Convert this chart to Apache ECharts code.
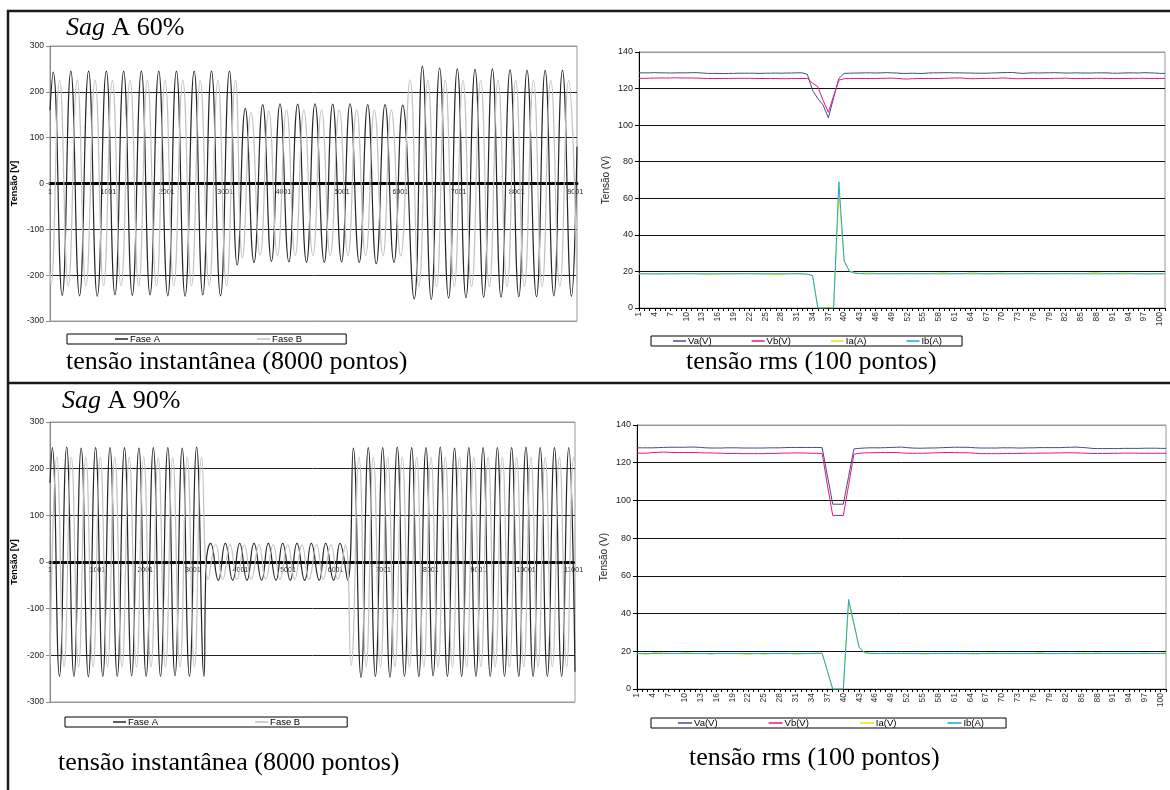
<!DOCTYPE html>
<html><head><meta charset="utf-8">
<script src="https://cdn.jsdelivr.net/npm/echarts/dist/echarts.min.js"></script>
<style>html,body{margin:0;padding:0;background:#fff}#c{width:1170px;height:790px}</style>
</head><body><div id="c"></div>
<script>
// ---------- DATA ----------
// instantaneous voltage, 60% sag: waveform extrema [sample index, volts]
const sag60FaseA = [[0,160],[54,243],[209,-244],[357,245],[506,-245],[661,245],[810,-246],[965,245],[1113,-243],[1262,245],[1410,-244],[1565,245],[1714,-243],[1863,245],[2018,-245],[2166,245],[2315,-246],[2470,245],[2618,-243],[2767,245],[2922,-245],[3075,245],[3208,-178],[3346,164],[3495,-172],[3645,172],[3794,-170],[3941,174],[4093,-171],[4244,173],[4395,-172],[4541,174],[4699,-172],[4844,173],[4996,-171],[5141,174],[5299,-172],[5444,172],[5590,-175],[5741,172],[5894,-172],[6044,171],[6240,-252],[6380,256],[6533,-253],[6676,252],[6830,-250],[6979,250],[7127,-249],[7283,249],[7431,-248],[7580,250],[7729,-248],[7883,248],[8033,-247],[8174,247],[8336,-247],[8484,247],[8633,-245],[8781,247],[8936,-246],[9030,80]];
const sag60FaseB = [[0,-195],[15,-222],[164,225],[312,-223],[467,225],[616,-223],[771,226],[919,-223],[1068,225],[1217,-223],[1372,225],[1520,-223],[1669,225],[1824,-223],[1972,225],[2121,-223],[2276,225],[2425,-223],[2573,225],[2728,-223],[2877,225],[3025,-223],[3178,225],[3297,-162],[3445,155],[3600,-156],[3749,158],[3897,-157],[4053,160],[4201,-157],[4350,160],[4505,-157],[4653,160],[4802,-157],[4957,160],[5106,-157],[5254,160],[5409,-157],[5558,160],[5706,-157],[5848,160],[6010,-158],[6169,226],[6320,-225],[6475,225],[6624,-225],[6772,225],[6927,-225],[7076,225],[7224,-225],[7379,225],[7528,-225],[7677,225],[7832,-225],[7980,225],[8129,-225],[8284,225],[8432,-225],[8581,225],[8736,-225],[8885,225],[9030,-220]];
// instantaneous voltage, 90% sag
const sag90FaseA = [[0,170],[48,245],[199,-245],[351,246],[503,-245],[655,244],[806,-246],[958,245],[1110,-245],[1261,245],[1413,-245],[1565,245],[1716,-244],[1868,244],[2020,-245],[2171,245],[2323,-245],[2475,245],[2626,-244],[2778,244],[2930,-245],[3081,246],[3235,-245],[3280,-5],[3376,40],[3536,-39],[3683,40],[3838,-39],[3985,40],[4139,-39],[4286,40],[4447,-39],[4586,40],[4748,-39],[4889,40],[5048,-39],[5189,40],[5351,-39],[5490,40],[5657,-39],[5792,40],[5960,-39],[6092,40],[6254,-39],[6372,244],[6534,-247],[6687,245],[6837,-245],[6989,245],[7142,-247],[7296,246],[7447,-245],[7599,245],[7749,-245],[7899,245],[8049,-244],[8199,246],[8349,-245],[8499,244],[8649,-245],[8799,245],[8949,-245],[9099,245],[9249,-245],[9399,245],[9549,-245],[9699,245],[9849,-245],[9999,246],[10149,-245],[10299,245],[10449,-245],[10599,245],[10749,-245],[10899,245],[11030,-235]];
const sag90FaseB = [[0,-222],[143,225],[295,-225],[447,225],[600,-225],[752,225],[904,-225],[1056,225],[1209,-225],[1361,225],[1513,-225],[1665,225],[1817,-225],[1969,225],[2122,-225],[2274,225],[2426,-225],[2578,225],[2731,-225],[2883,225],[3035,-225],[3187,225],[3326,-37],[3481,37],[3628,-37],[3782,37],[3929,-37],[4082,37],[4229,-37],[4391,37],[4531,-37],[4691,37],[4832,-37],[4994,37],[5141,-37],[5294,37],[5441,-37],[5603,37],[5742,-37],[5903,37],[6044,-37],[6204,37],[6324,-222],[6492,225],[6642,-225],[6792,225],[6943,-225],[7095,225],[7248,-225],[7401,225],[7552,-225],[7704,225],[7854,-225],[8004,225],[8154,-225],[8304,225],[8454,-225],[8604,225],[8754,-225],[8904,225],[9054,-225],[9204,225],[9354,-225],[9504,225],[9654,-225],[9804,225],[9954,-225],[10104,225],[10254,-225],[10404,225],[10554,-225],[10704,225],[10854,-225],[11004,225],[11030,215]];

// rms, 100 points (categories 1..101)
const rmsCategories = Array.from({length:101}, (_, i) => String(i + 1));
const rms60Va = [128.6,128.6,128.6,128.7,128.6,128.6,128.5,128.6,128.6,128.6, 128.7,128.7,128.5,128.3,128.3,128.3,128.2,128.3,128.3,128.4, 128.4,128.4,128.4,128.3,128.4,128.4,128.5,128.4,128.5,128.5, 128.6,128.6,127.8,119,114.5,111,104,115,125.5,128.3, 128.4,128.5,128.5,128.6,128.6,128.5,128.6,128.7,128.6,128.5, 128.3,128.3,128.4,128.3,128.3,128.5,128.6,128.6,128.7,128.7, 128.6,128.6,128.5,128.5,128.4,128.4,128.4,128.5,128.6,128.7, 128.8,128.8,128.5,128.3,128.5,128.6,128.5,128.6,128.6,128.7, 128.6,128.5,128.5,128.6,128.5,128.5,128.5,128.6,128.6,128.6, 128.4,128.4,128.5,128.6,128.6,128.5,128.7,128.6,128.5,128.3, 128.3];
const rms60Vb = [125.6,125.6,125.7,125.7,125.8,125.8,125.8,125.9,125.8,125.8, 125.8,125.7,125.6,125.5,125.5,125.5,125.5,125.5,125.6,125.6, 125.6,125.6,125.5,125.5,125.5,125.5,125.5,125.4,125.4,125.5, 125.5,125.5,125.5,123,121,113.5,107,116,124.6,125.4, 125.5,125.5,125.5,125.5,125.5,125.5,125.6,125.6,125.7,125.6, 125.3,125.2,125.4,125.5,125.5,125.5,125.5,125.5,125.6,125.7, 125.8,125.8,125.6,125.4,125.4,125.5,125.6,125.6,125.6,125.8, 125.7,125.5,125.4,125.4,125.5,125.5,125.5,125.5,125.5,125.6, 125.6,125.7,125.5,125.5,125.5,125.5,125.5,125.6,125.6,125.5, 125.5,125.5,125.5,125.5,125.6,125.6,125.6,125.5,125.5,125.5, 125.6];
const rms60Ia = [18.7,18.7,18.6,18.5,18.6,18.7,18.6,18.7,18.8,18.8, 18.8,18.8,18.4,18.2,18.5,18.7,18.7,18.7,18.8,18.8, 18.8,18.8,18.7,18.6,18.6,18.6,18.3,18.3,18.6,18.8, 18.8,18.6,18.5,17.8,0,0,0.5,0,63,25, 20.5,19.3,19.0,19.2,19.2,19.0,18.8,18.8,18.8,18.9, 18.9,19.0,18.9,18.8,18.8,18.8,18.9,19.2,19.3,19.0, 18.8,18.8,19.0,19.3,19.2,18.9,18.7,18.8,19.0,19.2, 19.0,18.8,18.8,18.9,19.1,19.0,18.8,18.8,18.8,18.9, 18.9,19.0,18.9,18.8,18.8,18.9,19.3,19.4,19.1,18.9, 18.8,19.0,19.2,19.1,18.9,18.7,18.6,18.6,18.7,18.8, 18.8];
const rms60Ib = [18.7,18.7,18.7,18.7,18.7,18.7,18.7,18.7,18.7,18.7, 18.7,18.7,18.7,18.7,18.7,18.7,18.7,18.7,18.7,18.7, 18.7,18.7,18.7,18.7,18.7,18.7,18.7,18.7,18.7,18.7, 18.7,18.7,18.5,17.7,0,0,0,0,69,26, 20,19,18.8,18.7,18.7,18.7,18.7,18.7,18.7,18.7, 18.7,18.7,18.7,18.7,18.7,18.7,18.7,18.7,18.7,18.7, 18.7,18.7,18.7,18.7,18.7,18.7,18.7,18.7,18.7,18.7, 18.7,18.7,18.7,18.7,18.7,18.7,18.7,18.7,18.7,18.7, 18.7,18.7,18.7,18.7,18.7,18.7,18.7,18.7,18.7,18.7, 18.7,18.7,18.7,18.7,18.7,18.7,18.7,18.7,18.7,18.7, 18.7];
const rms90Va = [127.9,127.9,127.9,127.9,128.0,128.1,128.2,128.2,128.2,128.2, 128.3,128.3,128.1,127.9,127.8,127.8,127.8,127.9,127.9,127.9, 127.8,127.8,127.8,127.8,127.8,127.9,127.9,127.9,128.0,128.1, 128.1,128.1,128.1,128.1,128.1,128.0,113,98,98,98, 112.7,127.3,127.6,127.8,127.9,127.9,127.9,128.0,128.1,128.2, 128.3,128.0,127.8,127.7,127.7,127.8,127.8,127.9,128.0,128.1, 128.2,128.2,128.2,128.1,127.9,127.8,127.8,127.8,127.8,127.9, 127.9,127.9,127.8,127.8,127.9,127.9,128.0,128.0,128.0,128.0, 128.0,128.1,128.2,128.3,128.1,127.9,127.6,127.5,127.5,127.5, 127.5,127.5,127.6,127.6,127.6,127.6,127.7,127.7,127.7,127.6, 127.6];
const rms90Vb = [125.2,125.0,125.1,125.4,125.5,125.6,125.5,125.4,125.4,125.4, 125.4,125.4,125.3,125.2,125.2,125.1,125.0,124.9,124.9,124.9, 124.8,124.8,124.8,124.8,124.8,124.9,124.9,125.0,125.1,125.1, 125.2,125.2,125.1,125.0,125.0,124.9,108,92,92,92, 108,124.5,125.0,125.2,125.3,125.3,125.4,125.4,125.4,125.4, 125.2,125.0,125.0,125.0,125.0,125.1,125.2,125.3,125.4,125.4, 125.4,125.3,125.3,125.2,125.0,124.8,124.8,124.8,124.8,124.8, 124.9,124.9,124.9,125.0,125.0,125.0,125.1,125.1,125.1,125.2, 125.2,125.3,125.3,125.2,125.1,125.0,124.9,124.9,124.9,124.9, 125.0,125.0,125.1,125.1,125.1,125.0,125.0,125.0,125.0,125.0, 125.0];
const rms90Ia = [18.9,18.6,18.3,19.3,19.3,19.2,19.0,18.9,18.9,19.3, 19.2,18.9,18.9,18.8,18.4,18.9,19.0,18.9,18.8,18.7, 18.6,18.4,18.7,18.9,18.4,18.7,18.9,18.9,19.0,18.8, 18.4,18.7,18.8,19.0,19.1,19.0,9.5,0,0,0, 46,34,22,19.5,19.2,18.9,18.8,18.9,19.0,19.0, 19.1,19.0,18.9,18.8,18.5,18.7,18.9,19.0,18.9,18.9, 19.0,18.9,18.8,18.6,18.5,18.8,19.0,19.2,19.0,18.9, 19.0,19.0,18.8,18.9,19.0,19.0,19.3,19.0,18.7,18.8, 18.9,19.0,18.8,18.9,19.1,19.0,18.9,19.3,19.0,18.9, 18.9,19.0,19.0,18.9,18.8,19.0,19.2,19.0,18.9,19.1, 19.2];
const rms90Ib = [18.8,18.8,18.8,18.8,18.8,18.8,18.8,18.8,18.8,18.8, 18.8,18.8,18.8,18.8,18.8,18.8,18.8,18.8,18.8,18.8, 18.8,18.8,18.8,18.8,18.8,18.8,18.8,18.8,18.8,18.8, 18.8,18.8,18.8,18.8,18.8,18.9,9.5,0,0,0, 47.5,35,22,19.3,18.8,18.8,18.8,18.8,18.8,18.8, 18.8,18.8,18.8,18.8,18.8,18.8,18.8,18.8,18.8,18.8, 18.8,18.8,18.8,18.8,18.8,18.8,18.8,18.8,18.8,18.8, 18.8,18.8,18.8,18.8,18.8,18.8,18.8,18.8,18.8,18.8, 18.8,18.8,18.8,18.8,18.8,18.8,18.8,18.8,18.8,18.8, 18.8,18.8,18.8,18.8,18.8,18.8,18.8,18.8,18.8,18.8, 18.8];

// texts
const titles = ['Sag', ' A 60%', ' A 90%'];
const captionInst = 'tensão instantânea (8000 pontos)';
const captionRms = 'tensão rms (100 pontos)';
const legendWave = ['Fase A', 'Fase B'];
const legendRms60 = ['Va(V)', 'Vb(V)', 'Ia(A)', 'Ib(A)'];
const legendRms90 = ['Va(V)', 'Vb(V)', 'Ia(V)', 'Ib(A)'];

// ---------- CHART ----------
const SANS = '"Liberation Sans", Arial, sans-serif';
const SERIF = '"Liberation Serif", "Times New Roman", serif';
const colA = '#262626', colB = '#c2c2c2';
const colVa = '#4a4a82', colVb = '#e6158c', colIa = '#eee400', colIb = '#1ea8dc';

const chart = echarts.init(document.getElementById('c'), null, {renderer: 'canvas'});

function waveX(gi, max, off) {
  return {type: 'value', gridIndex: gi, min: 0, max: max, interval: 1000, position: 'bottom', offset: off,
    axisLine: {onZero: false, lineStyle: {color: '#000', width: 3, type: [6, 1.5]}},
    axisTick: {show: false}, splitLine: {show: false},
    axisLabel: {fontSize: 7, color: '#222', fontFamily: SANS, margin: 5, showMaxLabel: false,
      formatter: v => String(v + 1)}};
}
function waveY(gi) {
  return {type: 'value', gridIndex: gi, min: -300, max: 300, interval: 100,
    axisLine: {show: true, onZero: false, lineStyle: {color: '#8a8a8a', width: 1}},
    axisTick: {show: true, length: 4, lineStyle: {color: '#8a8a8a'}},
    splitLine: {show: true, lineStyle: {width: 1, color: ['#9a9a9a', '#222', '#222', '#222', '#222', '#222', '#9a9a9a']}},
    axisLabel: {fontSize: 8.5, color: '#222', fontFamily: SANS, margin: 6},
    name: 'Tensão [V]', nameLocation: 'middle', nameGap: 31,
    nameTextStyle: {fontWeight: 'bold', fontSize: 9, color: '#000', fontFamily: SANS}};
}
function rmsX(gi) {
  return {type: 'category', gridIndex: gi, data: rmsCategories, boundaryGap: false,
    axisLine: {show: true, onZero: false, lineStyle: {color: '#000', width: 1}},
    axisTick: {show: true, interval: 0, length: 3, lineStyle: {color: '#000'}},
    axisLabel: {interval: 2, rotate: 90, fontSize: 8.5, color: '#333', fontFamily: SANS, margin: 4}};
}
function rmsY(gi) {
  return {type: 'value', gridIndex: gi, min: 0, max: 140, interval: 20,
    axisLine: {show: true, onZero: false, lineStyle: {color: '#000', width: 1}},
    axisTick: {show: true, length: 4, lineStyle: {color: '#000'}},
    splitLine: {show: true, lineStyle: {width: 1, color: ['#000', '#111', '#111', '#111', '#111', '#111', '#111', '#9a9a9a']}},
    axisLabel: {fontSize: 9, color: '#222', fontFamily: SANS, margin: 6},
    name: 'Tensão (V)', nameLocation: 'middle', nameGap: 28,
    nameTextStyle: {fontSize: 10, color: '#222', fontFamily: SANS}};
}
function line(name, data, color, xi, yi, smooth) {
  return {type: 'line', name: name, data: data, xAxisIndex: xi, yAxisIndex: yi, color: color,
    showSymbol: false, symbol: 'none', smooth: !!smooth, lineStyle: {width: smooth ? 1.2 : 1, color: color},
    itemStyle: {color: color}, animation: false, silent: true};
}
function legend(names, left, top, padding, gap, iw) {
  return {data: names, left: left, top: top, padding: padding, itemGap: gap,
    itemWidth: iw, itemHeight: 1.5, icon: 'rect', selectedMode: false,
    borderColor: '#000', borderWidth: 1, borderRadius: 0, backgroundColor: '#fff',
    textStyle: {fontSize: 9.5, color: '#000', fontFamily: SANS, padding: [0, 0, 0, -3]}};
}
const serifText = {fontFamily: SERIF, fontSize: 26, fontWeight: 'normal', color: '#000'};
function titleWithSag(rest, left, top) {
  return {text: '{i|' + titles[0] + '}{n|' + rest + '}', left: left, top: top, padding: 0,
    textStyle: Object.assign({}, serifText, {rich: {
      i: Object.assign({}, serifText, {fontStyle: 'italic'}),
      n: Object.assign({}, serifText)}})};
}
function caption(text, left, top) {
  return {text: text, left: left, top: top, padding: 0, textStyle: serifText};
}

const gridBase = {show: true, borderColor: '#9a9a9a', borderWidth: 1, backgroundColor: 'transparent', containLabel: false, outerBoundsMode: 'none'};

chart.setOption({
  animation: false,
  backgroundColor: '#fff',
  grid: [
    Object.assign({left: 50, top: 46, width: 527, height: 275}, gridBase),
    Object.assign({left: 639, top: 52, width: 526, height: 256}, gridBase),
    Object.assign({left: 50, top: 422, width: 525, height: 280}, gridBase),
    Object.assign({left: 637, top: 425, width: 529, height: 264}, gridBase)
  ],
  xAxis: [waveX(0, 9030, -137.5), rmsX(1), waveX(2, 11030, -140), rmsX(3)],
  yAxis: [waveY(0), rmsY(1), waveY(2), rmsY(3)],
  legend: [
    legend(legendWave, 67, 334, [0, 44, 0, 48], 97, 13),
    legend(legendRms60, 651, 336, [0, 20, 0, 22], 40, 13),
    legend(legendWave, 65, 717, [0, 47, 0, 48], 97, 13),
    legend(legendRms90, 651, 718, [0, 22, 0, 27], 51, 14)
  ],
  title: [
    titleWithSag(titles[1], 66, 15),
    titleWithSag(titles[2], 62, 388),
    caption(captionInst, 66, 349),
    caption(captionRms, 686, 349),
    caption(captionInst, 58, 750),
    caption(captionRms, 689, 745)
  ],
  graphic: [
    {type: 'line', shape: {x1: 7, y1: 11, x2: 1170, y2: 11}, style: {stroke: '#1a1a1a', lineWidth: 2.5}},
    {type: 'line', shape: {x1: 8, y1: 10, x2: 8, y2: 790}, style: {stroke: '#1a1a1a', lineWidth: 2.5}},
    {type: 'line', shape: {x1: 7, y1: 383, x2: 1170, y2: 383}, style: {stroke: '#1a1a1a', lineWidth: 2.5}}
  ],
  series: [
    line('Fase A', sag60FaseA, colA, 0, 0, true),
    line('Fase B', sag60FaseB, colB, 0, 0, true),
    line('Va(V)', rms60Va, colVa, 1, 1),
    line('Vb(V)', rms60Vb, colVb, 1, 1),
    line('Ia(A)', rms60Ia, colIa, 1, 1),
    line('Ib(A)', rms60Ib, colIb, 1, 1),
    line('Fase A', sag90FaseA, colA, 2, 2, true),
    line('Fase B', sag90FaseB, colB, 2, 2, true),
    line('Va(V)', rms90Va, colVa, 3, 3),
    line('Vb(V)', rms90Vb, colVb, 3, 3),
    line('Ia(V)', rms90Ia, colIa, 3, 3),
    line('Ib(A)', rms90Ib, colIb, 3, 3)
  ]
});
</script></body></html>
